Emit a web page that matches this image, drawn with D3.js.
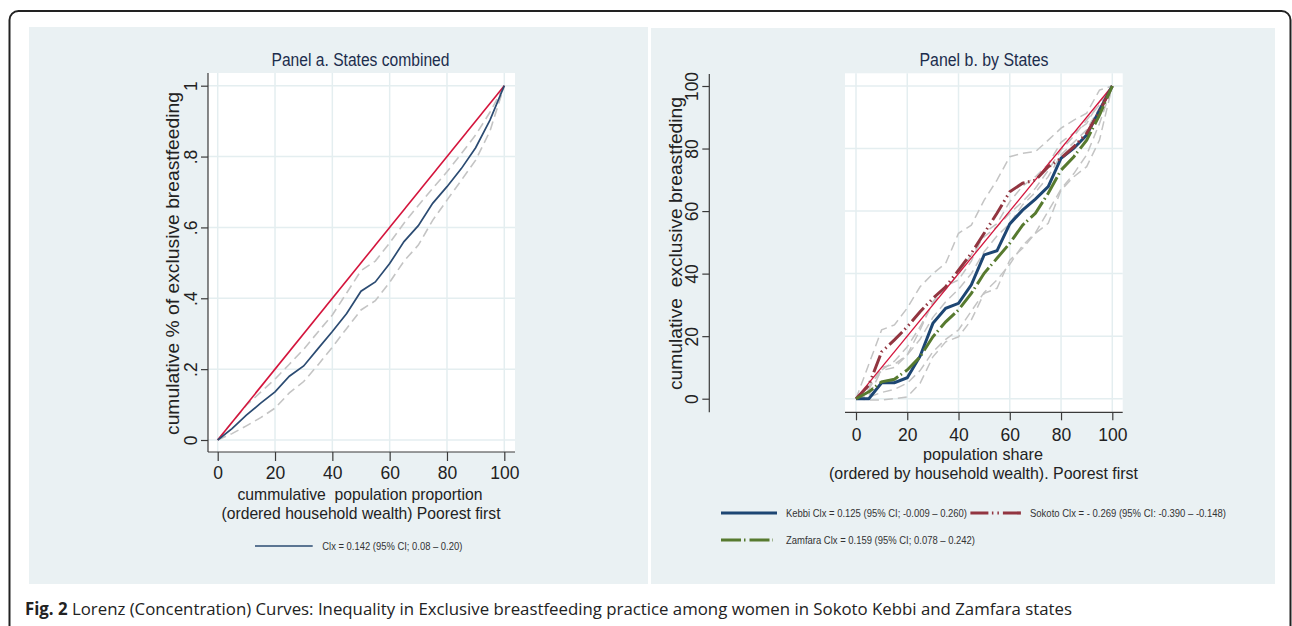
<!DOCTYPE html>
<html><head><meta charset="utf-8">
<script src="https://cdn.jsdelivr.net/npm/d3@7"></script>
<style>
html,body{margin:0;padding:0;background:#fff;}
svg text{font-family:"Liberation Sans",Arial,Helvetica,sans-serif;white-space:pre;}
</style></head>
<body><svg id="c" width="1292" height="626"></svg>
<script>
// ---------- DATA ----------
const popShare = [0,5,10,15,20,25,30,35,40,45,50,55,60,65,70,75,80,85,90,95,100];
// Panel a (states combined), proportions
const combinedCurve = [0,0.032,0.070,0.104,0.136,0.180,0.209,0.258,0.306,0.357,0.420,0.446,0.498,0.560,0.605,0.668,0.715,0.766,0.825,0.903,1];
const combinedUpper = [0,0.050,0.098,0.135,0.172,0.214,0.256,0.305,0.353,0.415,0.478,0.505,0.556,0.612,0.662,0.710,0.757,0.808,0.861,0.925,1];
const combinedLower = [0,0.018,0.040,0.063,0.090,0.133,0.165,0.212,0.262,0.315,0.367,0.393,0.445,0.505,0.550,0.620,0.677,0.733,0.790,0.872,1];
// Panel b (by states), percent
const kebbi   = [0,0,5.1,5.1,6.7,13.6,24.1,28.9,30.5,36.4,46,47.3,55.9,60.3,63.8,67.8,76.9,80.1,84.3,92.3,100];
const sokoto  = [0,4.3,15,18.8,23,27.8,32.1,35.8,41.1,46.5,52.9,59.3,66.2,68.9,69.9,74.2,76.9,80.6,84.9,91.8,100];
const zamfara = [0,2.2,5.4,6.2,9.2,13.4,19.8,24.6,28.4,33.7,40.1,44.9,49.7,55.5,59.3,65.7,73.1,77.4,82.7,90.7,100];
const sokotoUpper  = [0,11,22,23.6,29,35.8,40,43.3,52.9,55.5,63.5,69.9,77.4,78.5,79,82.7,86.5,89.1,91.3,98.7,100];
const sokotoLower  = [0,1,9.2,12,16.6,23,30.5,35,40,46,51.8,55,59.3,63,67.3,73,79.5,84,89.1,94,100];
const kebbiUpper   = [0,3,10,11,14,22,31,36,38,44,53,56,63,68,71,75,82,85,88,95,100];
const kebbiLower   = [0,-0.4,-0.4,0,0.6,4.9,13.4,18.2,19.8,25.2,33.7,35.3,44.3,48.1,52.9,56.1,66.7,71,74.2,82.7,100];
const zamfaraUpper = [0,4,9,10,14,19,26,31,35,40,47,52,56,62,66,71,78,82,86,93,100];
const zamfaraLower = [0,0.5,2,3,5,9,15,19,22,28,34,38,43,49,53,60,67,72,78,88,100];
const equality = [[0,0],[100,100]];

const xTicks = [0,20,40,60,80,100];
const yTicksA = [0,0.2,0.4,0.6,0.8,1];
const yTickLabelsA = ["0",".2",".4",".6",".8","1"];
const yTicksB = [0,20,40,60,80,100];

const titleA = "Panel a. States combined";
const titleB = "Panel b. by States";
const yTitleA = "cumulative % of exclusive breastfeeding";
const yTitleB = "cumulative  exclusive breastfeding";
const xTitleA = ["cummulative  population proportion","(ordered household wealth) Poorest first"];
const xTitleB = ["population share","(ordered by household wealth). Poorest first"];
const legendA = "Clx = 0.142 (95% CI; 0.08 \u2013 0.20)";
const legendB = ["Kebbi Clx = 0.125 (95% CI; -0.009 \u2013 0.260)",
                 "Sokoto Clx = - 0.269 (95% CI: -0.390 \u2013 -0.148)",
                 "Zamfara Clx = 0.159 (95% CI; 0.078 \u2013 0.242)"];
const captionBold = "Fig. 2";
const captionText = " Lorenz (Concentration) Curves: Inequality in Exclusive breastfeeding practice among women in Sokoto Kebbi and Zamfara states";

// ---------- STYLE ----------
const BG = "#eaf1f3", GRID = "#e4eef0", AXIS = "#3a3a3a", TITLE = "#1c2d4d";
const RED = "#d4143c", NAVY = "#1d4673", MAROON = "#923540", OLIVE = "#577a2f", GRAY = "#c4c4c4";
const SOK_DASH = "18,3.5,1.5,4,1.5,4";
const ZAM_DASH = "20,3,1.5,4";

const svg = d3.select("#c");

// outer frame
svg.append("rect").attr("x",9.5).attr("y",11).attr("width",1281).attr("height",640)
  .attr("rx",9).attr("fill","#fff").attr("stroke","#222").attr("stroke-width",2);
// panel backgrounds
svg.append("rect").attr("x",29).attr("y",27).attr("width",619).attr("height",557).attr("fill",BG);
svg.append("rect").attr("x",651).attr("y",28).attr("width",624).attr("height",556).attr("fill",BG);

function txt(g, x, y, s, o={}) {
  const t = g.append("text").attr("x",x).attr("y",y).text(s)
    .attr("font-size",o.size||16).attr("fill",o.fill||"#222")
    .attr("text-anchor",o.anchor||"middle");
  if (o.len) t.attr("textLength",o.len).attr("lengthAdjust","spacingAndGlyphs");
  if (o.rot) t.attr("transform",`rotate(-90,${x},${y})`);
  return t;
}

function panel(cfg) {
  const g = svg.append("g");
  const x = d3.scaleLinear().domain([0,100]).range(cfg.xr);
  const y = d3.scaleLinear().domain(cfg.yd).range(cfg.yr);
  const [L,R,T,B] = cfg.box;
  g.append("rect").attr("x",L).attr("y",T).attr("width",R-L).attr("height",B-T).attr("fill","#fff");
  // grid
  g.selectAll(".vg").data(xTicks).join("line").attr("x1",d=>x(d)).attr("x2",d=>x(d))
    .attr("y1",T).attr("y2",B).attr("stroke",GRID).attr("stroke-width",1.5);
  g.selectAll(".hg").data(cfg.yTicks).join("line").attr("y1",d=>y(d)).attr("y2",d=>y(d))
    .attr("x1",L).attr("x2",R).attr("stroke",GRID).attr("stroke-width",1.5);
  // x axis
  g.append("line").attr("x1",L).attr("x2",R).attr("y1",B).attr("y2",B).attr("stroke",AXIS).attr("stroke-width",1.2);
  const xa = g.append("g").attr("transform",`translate(0,${B})`)
    .call(d3.axisBottom(x).tickValues(xTicks).tickSize(cfg.xTick).tickPadding(cfg.xPad).tickFormat(d3.format("d")));
  xa.select(".domain").remove();
  xa.selectAll("line").attr("stroke",AXIS).attr("stroke-width",1.2);
  xa.selectAll("text").attr("font-size",17.5).attr("fill","#222").attr("font-family","Liberation Sans, Arial, sans-serif");
  // y axis
  const ax = cfg.yAxisX;
  g.append("line").attr("x1",ax).attr("x2",ax).attr("y1",cfg.yAxisTop).attr("y2",B).attr("stroke",AXIS).attr("stroke-width",1.2);
  const ya = g.append("g").attr("transform",`translate(${ax},0)`)
    .call(d3.axisLeft(y).tickValues(cfg.yTicks).tickSize(7).tickFormat((d,i)=>cfg.yLabels[i]));
  ya.select(".domain").remove();
  ya.selectAll("line").attr("stroke",AXIS).attr("stroke-width",1.2);
  ya.selectAll("text").attr("x",null).attr("dy",null).attr("text-anchor","middle")
    .attr("transform",`translate(${-cfg.yLabOff},0) rotate(-90)`)
    .attr("font-size",17.5).attr("fill","#222").attr("font-family","Liberation Sans, Arial, sans-serif");
  return {g,x,y};
}

// ---------- PANEL A ----------
const A = panel({xr:[217.7,504.3], yd:[0,1], yr:[440,85.7], box:[208,515,73,452],
  yTicks:yTicksA, yLabels:yTickLabelsA, yAxisX:208, yAxisTop:73, yLabOff:11, xTick:9, xPad:6});
const lineA = d3.line().x((d,i)=>A.x(popShare[i])).y(d=>A.y(d));
[combinedUpper, combinedLower].forEach(s=>{
  A.g.append("path").attr("d",lineA(s)).attr("fill","none").attr("stroke",GRAY)
    .attr("stroke-width",1.6).attr("stroke-dasharray","9,5");
});
A.g.append("path").attr("d",d3.line().x(d=>A.x(d[0])).y(d=>A.y(d[1]/100))(equality))
  .attr("fill","none").attr("stroke",RED).attr("stroke-width",1.6);
A.g.append("path").attr("d",lineA(combinedCurve)).attr("fill","none").attr("stroke","#2b4b72").attr("stroke-width",1.7);

txt(svg,360.5,66,titleA,{size:17.5,fill:TITLE,len:178});
txt(svg,179,263.5,yTitleA,{size:17.5,rot:true,len:343});
txt(svg,360,500,xTitleA[0],{size:17,len:245});
txt(svg,361,518.5,xTitleA[1],{size:17,len:279});
svg.append("line").attr("x1",255).attr("x2",312.7).attr("y1",546).attr("y2",546).attr("stroke","#2b4b72").attr("stroke-width",1.5);
txt(svg,322.3,549.8,legendA,{size:11,anchor:"start",fill:"#333",len:140});

// ---------- PANEL B ----------
const Bp = panel({xr:[856,1112.3], yd:[0,100], yr:[398.7,86], box:[845,1122.7,73.3,412.3],
  yTicks:yTicksB, yLabels:yTicksB.map(String), yAxisX:709.3, yAxisTop:74, yLabOff:11.8, xTick:8, xPad:8});
const lineB = d3.line().x((d,i)=>Bp.x(popShare[i])).y(d=>Bp.y(d));
[sokotoUpper,sokotoLower,kebbiUpper,kebbiLower,zamfaraUpper,zamfaraLower].forEach(s=>{
  Bp.g.append("path").attr("d",lineB(s)).attr("fill","none").attr("stroke",GRAY)
    .attr("stroke-width",1.5).attr("stroke-dasharray","9,5");
});
Bp.g.append("path").attr("d",d3.line().x(d=>Bp.x(d[0])).y(d=>Bp.y(d[1]))(equality))
  .attr("fill","none").attr("stroke",RED).attr("stroke-width",1.3);
Bp.g.append("path").attr("d",lineB(kebbi)).attr("fill","none").attr("stroke",NAVY).attr("stroke-width",3);
Bp.g.append("path").attr("d",lineB(sokoto)).attr("fill","none").attr("stroke",MAROON).attr("stroke-width",3).attr("stroke-dasharray",SOK_DASH);
Bp.g.append("path").attr("d",lineB(zamfara)).attr("fill","none").attr("stroke",OLIVE).attr("stroke-width",3).attr("stroke-dasharray",ZAM_DASH);

txt(svg,984,66,titleB,{size:17.5,fill:TITLE,len:129});
txt(svg,682,243.5,yTitleB,{size:17.5,rot:true,len:293});
txt(svg,983,460,xTitleB[0],{size:17,len:120});
txt(svg,983.5,478.5,xTitleB[1],{size:17,len:309});

// legend b
const lg = svg.append("g");
const legItems = [
  {x1:721,x2:777,y:513,col:NAVY,dash:null,tx:786,label:legendB[0],len:181},
  {x1:970.4,x2:1022.5,y:513,col:MAROON,dash:SOK_DASH,tx:1030,label:legendB[1],len:196},
  {x1:721,x2:773,y:540,col:OLIVE,dash:ZAM_DASH,tx:786,label:legendB[2],len:189}
];
legItems.forEach(d=>{
  const l = lg.append("line").attr("x1",d.x1).attr("x2",d.x2).attr("y1",d.y).attr("y2",d.y)
    .attr("stroke",d.col).attr("stroke-width",3.2);
  if (d.dash) l.attr("stroke-dasharray",d.dash);
  txt(lg,d.tx,d.y+4,d.label,{size:11,anchor:"start",fill:"#333",len:d.len});
});

// caption
const cap = svg.append("text").attr("x",25).attr("y",615).attr("font-size",17)
  .attr("fill","#222").attr("textLength",1047).attr("lengthAdjust","spacingAndGlyphs")
  .style("font-family","'Open Sans','Noto Sans',sans-serif");
cap.append("tspan").attr("font-weight","bold").text(captionBold);
cap.append("tspan").text(captionText);
</script></body></html>
